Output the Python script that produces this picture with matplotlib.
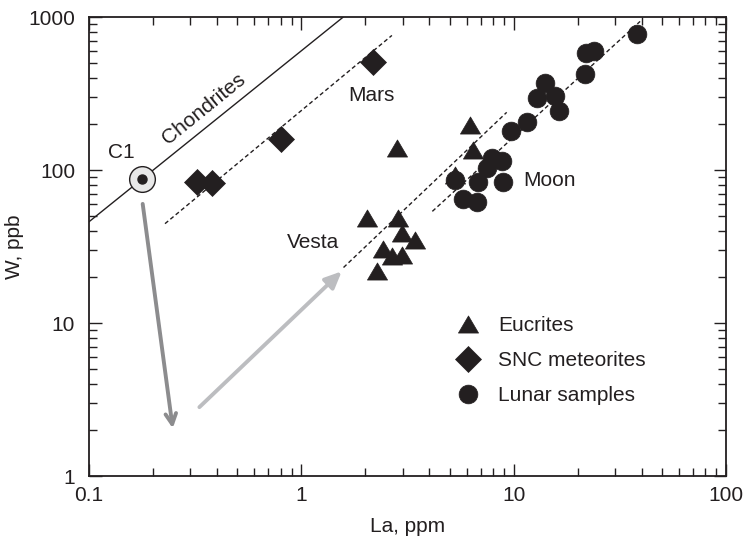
import matplotlib
matplotlib.use("Agg")
import matplotlib.pyplot as plt
from matplotlib.path import Path
from matplotlib.ticker import LogLocator, FuncFormatter, NullFormatter

plt.rcParams['font.family'] = ['Liberation Sans', 'DejaVu Sans']

INK = '#231f20'

# Eucrites (Vesta)
eucrite_la = [2.27, 2.43, 2.67, 2.97, 3.43, 2.97, 2.03, 2.86, 2.83, 6.24, 6.45, 5.30]
eucrite_w = [22.0, 30.5, 27.3, 28.0, 35.1, 38.9, 48.7, 48.7, 140, 198, 136, 93]

# SNC meteorites (Mars)
snc_la = [0.321, 0.378, 0.80, 2.18]
snc_w = [83.4, 83.0, 161, 512]

# Lunar samples
lunar_la = [38.0, 21.9, 24.0, 21.7, 14.0, 12.9, 15.7, 16.3, 11.6, 9.68,
            7.89, 8.79, 7.46, 5.30, 6.82, 8.93, 5.80, 6.70]
lunar_w = [781, 580, 601, 423, 373, 297, 305, 243, 207, 180,
           120, 114, 104, 86.8, 83.3, 83.3, 64.9, 61.6]

# CI chondrite composition
c1_la, c1_w = 0.178, 88

# Reference trends (La, W end points)
chondrite_line = ([0.1, 1.57], [46, 1000])
mars_line = ([0.228, 2.67], [44.7, 761])
vesta_line = ([1.58, 9.27], [23.1, 239])
moon_line = ([4.14, 39.4], [53.8, 940])

# Depletion / enrichment arrows ((La, W) start -> end)
arrow_down = ((0.179, 60.2), (0.248, 2.05))
arrow_up = ((0.331, 2.82), (1.55, 21.8))

xticks = [0.1, 1, 10, 100]
yticks = [1, 10, 100, 1000]

fig = plt.figure(figsize=(7.49, 5.43), dpi=100)
ax = fig.add_axes([89 / 749, 1 - 476 / 543, 637 / 749, (476 - 17.3) / 543])
ax.set_xscale('log')
ax.set_yscale('log')
ax.set_xlim(0.1, 100)
ax.set_ylim(1, 1000)

# Trend lines
ax.plot(*chondrite_line, color=INK, lw=1.0, zorder=2)
for line in (mars_line, vesta_line, moon_line):
    ax.plot(*line, color=INK, lw=1.0, ls=(0, (3, 2)), zorder=2)

# Arrows
ax.annotate('', xy=arrow_down[1], xytext=arrow_down[0],
            arrowprops=dict(arrowstyle='->,head_length=0.75,head_width=0.38',
                            color='#8c8c8e', lw=2.8, shrinkA=0, shrinkB=0))
ax.annotate('', xy=arrow_up[1], xytext=arrow_up[0],
            arrowprops=dict(arrowstyle='-|>,head_length=1.0,head_width=0.45',
                            color='#bcbdc0', lw=2.8, shrinkA=0, shrinkB=0))

tri = Path([(0, 0.85), (-1, -0.85), (1, -0.85), (0, 0.85)],
           [Path.MOVETO, Path.LINETO, Path.LINETO, Path.CLOSEPOLY])

ax.plot(eucrite_la, eucrite_w, ls='none', marker=tri, ms=14.5,
        mfc=INK, mec=INK, mew=0.5, zorder=4, label='Eucrites')
ax.plot(snc_la, snc_w, ls='none', marker='D', ms=13.2,
        mfc=INK, mec=INK, mew=0.5, zorder=4, label='SNC meteorites')
ax.plot(lunar_la, lunar_w, ls='none', marker='o', ms=13.5,
        mfc=INK, mec=INK, mew=0.5, zorder=4, label='Lunar samples')

# C1 symbol
ax.plot([c1_la], [c1_w], marker='o', ms=18.5, mfc='#e8e8e8', mec=INK, mew=1.0, zorder=5)
ax.plot([c1_la], [c1_w], marker='o', ms=6.5, mfc=INK, mec=INK, zorder=6)

# Labels
fs = 15
ax.text(0.142, 130, 'C1', fontsize=fs, color=INK, ha='center', va='center')
ax.text(0.348, 253, 'Chondrites', fontsize=fs, color=INK, ha='center', va='center',
        rotation=39, rotation_mode='anchor')
ax.text(2.13, 309, 'Mars', fontsize=fs, color=INK, ha='center', va='center')
ax.text(1.135, 33.7, 'Vesta', fontsize=fs, color=INK, ha='center', va='center')
ax.text(14.7, 85.9, 'Moon', fontsize=fs, color=INK, ha='center', va='center')

leg = ax.legend(loc='upper left', bbox_to_anchor=(0.578, 0.348), frameon=False,
                fontsize=fs, handlelength=1.0, handletextpad=0.95,
                labelspacing=0.77, borderpad=0, borderaxespad=0, numpoints=1)
for t in leg.get_texts():
    t.set_color(INK)

# Axes styling
fmt = FuncFormatter(lambda v, p: '%g' % v)
ax.xaxis.set_minor_locator(LogLocator(base=10, subs=range(2, 10), numticks=20))
ax.yaxis.set_minor_locator(LogLocator(base=10, subs=range(2, 10), numticks=20))
ax.set_xticks(xticks)
ax.set_yticks(yticks)
ax.xaxis.set_major_formatter(fmt)
ax.yaxis.set_major_formatter(fmt)
ax.xaxis.set_minor_formatter(NullFormatter())
ax.yaxis.set_minor_formatter(NullFormatter())
ax.tick_params(which='both', direction='in', top=True, right=True,
               colors=INK, labelsize=fs, width=1.0)
ax.tick_params(which='major', length=9)
ax.tick_params(which='minor', length=5.5)
ax.tick_params(axis='x', which='major', pad=7)
ax.tick_params(axis='y', which='major', pad=10)
for s in ax.spines.values():
    s.set_linewidth(1.3)
    s.set_color(INK)

ax.set_xlabel('La, ppm', fontsize=fs, color=INK, labelpad=9)
ax.set_ylabel('W, ppb', fontsize=fs, color=INK, labelpad=3)

fig.savefig('out.png', dpi=100)
